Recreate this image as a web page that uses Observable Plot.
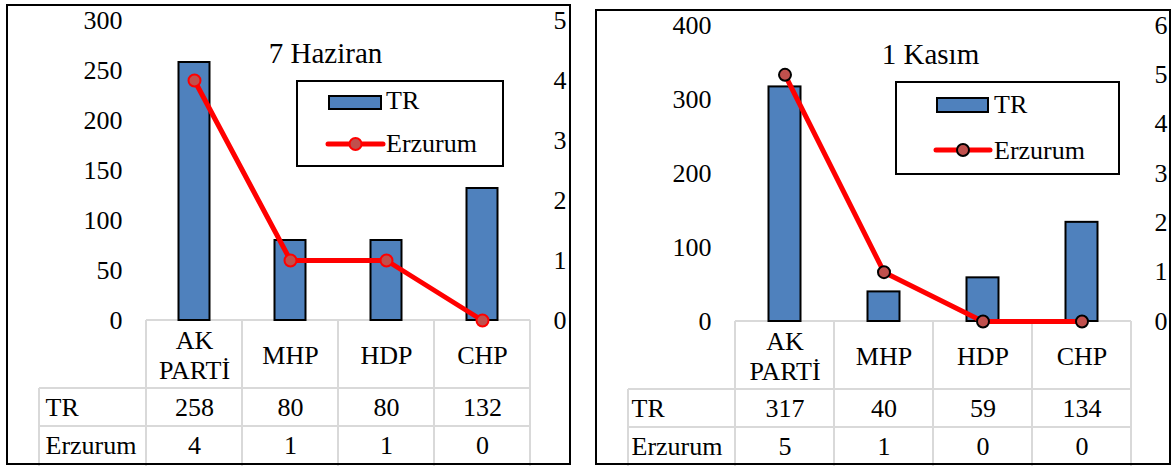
<!DOCTYPE html>
<html><head><meta charset="utf-8">
<script src="https://cdn.jsdelivr.net/npm/d3@7"></script>
<script src="https://cdn.jsdelivr.net/npm/@observablehq/plot@0.6"></script>
<style>
body{margin:0;background:#fff;}
#wrap{position:relative;width:1173px;height:466px;overflow:hidden;font-family:"Liberation Serif","Times New Roman",serif;}
#wrap svg{font-family:"Liberation Serif","Times New Roman",serif !important;font-size:26px;}
.frame{position:absolute;border:2px solid #000;box-sizing:border-box;pointer-events:none;}
</style></head><body>
<div id="wrap"></div>
<script>
// ---- data ----
const parties = ["AK PARTİ", "MHP", "HDP", "CHP"];
const partyLabels = ["AK\nPARTİ", "MHP", "HDP", "CHP"];
const seriesNames = ["TR", "Erzurum"];
const titles = ["7 Haziran", "1 Kasım"];
const trJune = [258, 80, 80, 132];
const erzJune = [4, 1, 1, 0];
const trNov = [317, 40, 59, 134];
const erzNov = [5, 1, 0, 0];
const leftTicksJune = [0, 50, 100, 150, 200, 250, 300];
const rightTicksJune = [0, 1, 2, 3, 4, 5];
const leftTicksNov = [0, 100, 200, 300, 400];
const rightTicksNov = [0, 1, 2, 3, 4, 5, 6];

const FONT = '"Liberation Serif","Times New Roman",serif';
const FS = 26;

function tableGrid(L) {
  return (index, scales, values, dims) => {
    const x = scales.x;
    const inner = dims.width - dims.marginLeft - dims.marginRight;
    let bounds = parties.map((p, i) => (x ? x(p) : dims.marginLeft + i * inner / parties.length));
    const step = bounds[1] - bounds[0];
    bounds.push(bounds[bounds.length - 1] + step);
    const y0 = dims.height - dims.marginBottom;
    const r1 = y0 + L.hdrH, r2 = r1 + L.rowH, bottom = dims.height;
    const last = bounds[bounds.length - 1];
    const g = d3.create("svg:g").attr("stroke", "#d9d9d9").attr("stroke-width", 2).attr("fill", "none");
    const seg = (x1, y1, x2, y2) => g.append("line").attr("x1", x1).attr("y1", y1).attr("x2", x2).attr("y2", y2);
    seg(bounds[0], y0, last, y0);
    seg(L.rowLeft, r1, last, r1);
    seg(L.rowLeft, r2, last, r2);
    bounds.forEach(b => seg(b, y0, b, bottom));
    seg(L.rowLeft, r1, L.rowLeft, bottom);
    return g.node();
  };
}

function legend(L) {
  return () => {
    const lg = L.lg;
    const g = d3.create("svg:g").attr("font-family", FONT).attr("font-size", FS).attr("text-anchor", "start");
    g.append("rect").attr("x", lg.x).attr("y", lg.y).attr("width", lg.w).attr("height", lg.h)
      .attr("fill", "#fff").attr("stroke", "#000").attr("stroke-width", 2);
    g.append("rect").attr("x", lg.sx).attr("y", lg.sy).attr("width", lg.sw).attr("height", lg.sh)
      .attr("fill", "#4F81BD").attr("stroke", "#000").attr("stroke-width", 2);
    g.append("text").attr("x", lg.tx).attr("y", lg.t1).attr("fill", "#000").style("text-anchor", "start").text(seriesNames[0]);
    g.append("line").attr("x1", lg.lx1).attr("x2", lg.lx2).attr("y1", lg.ly).attr("y2", lg.ly)
      .attr("stroke", "#FF0000").attr("stroke-width", 5).attr("stroke-linecap", "round");
    g.append("circle").attr("cx", (lg.lx1 + lg.lx2) / 2).attr("cy", lg.ly).attr("r", 6)
      .attr("fill", "#C0504D").attr("stroke", L.dotStroke).attr("stroke-width", 2);
    g.append("text").attr("x", lg.tx).attr("y", lg.t2).attr("fill", "#000").style("text-anchor", "start").text(seriesNames[1]);
    return g.node();
  };
}

function panel(cfg) {
  const {tr, erz, leftTicks, rightTicks, title, L} = cfg;
  const yMax = leftTicks[leftTicks.length - 1];
  const k = yMax / rightTicks[rightTicks.length - 1];
  const data = parties.map((p, i) => ({party: p, label: partyLabels[i], tr: tr[i], erz: erz[i]}));
  const txt = {fontFamily: FONT, fontSize: FS, fill: "#000"};
  return Plot.plot({
    width: L.width, height: 466,
    marginLeft: L.ml, marginRight: L.mr, marginTop: L.mt, marginBottom: L.mb,
    style: {background: "transparent", color: "#000", overflow: "visible"},
    x: {type: "band", domain: parties, padding: 0, axis: null},
    y: {domain: [0, yMax], axis: null},
    marks: [
      tableGrid(L),
      Plot.barY(data, {x: "party", y: "tr", fill: "#4F81BD", stroke: "#000", strokeWidth: 2, insetLeft: L.inset, insetRight: L.inset}),
      Plot.line(data, {x: "party", y: d => d.erz * k, stroke: "#FF0000", strokeWidth: 5}),
      Plot.dot(data, {x: "party", y: d => d.erz * k, r: 6, fill: "#C0504D", stroke: L.dotStroke, strokeWidth: 2}),
      Plot.axisY({ticks: leftTicks, tickSize: 0, tickPadding: 23, label: null, ...txt}),
      Plot.axisY({anchor: "right", ticks: rightTicks.map(t => t * k), tickFormat: d => String(Math.round(d / k)), tickSize: 0, tickPadding: 23, label: null, ...txt}),
      Plot.text([title], {text: d => d, frameAnchor: "top", dx: L.titleDx, dy: L.titleDy, lineAnchor: "middle", ...txt, fontSize: 29}),
      Plot.text(data, {x: "party", text: "label", frameAnchor: "bottom", dy: L.hdrDy, lineAnchor: "middle", lineHeight: 1.15, ...txt}),
      Plot.text(data, {x: "party", text: d => String(d.tr), frameAnchor: "bottom", dy: L.row1Dy, lineAnchor: "middle", ...txt}),
      Plot.text(data, {x: "party", text: d => String(d.erz), frameAnchor: "bottom", dy: L.row2Dy, lineAnchor: "middle", ...txt}),
      Plot.text([seriesNames[0]], {text: d => d, frameAnchor: "bottom-left", dx: L.rowHdrDx, dy: L.row1Dy, textAnchor: "start", lineAnchor: "middle", ...txt}),
      Plot.text([seriesNames[1]], {text: d => d, frameAnchor: "bottom-left", dx: L.rowHdrDx, dy: L.row2Dy, textAnchor: "start", lineAnchor: "middle", ...txt}),
      legend(L)
    ]
  });
}

const layoutJune = {
  left: 0, width: 580, ml: 145, mr: 50, mt: 20, mb: 146, inset: 32.5,
  titleDx: -12.5, titleDy: 33, hdrDy: 34, row1Dy: 87, row2Dy: 125, rowHdrDx: -100,
  rowLeft: 39, hdrH: 68, rowH: 38, dotStroke: "#FF0000",
  lg: {x: 297, y: 81, w: 206, h: 85, sx: 329, sy: 96, sw: 52, sh: 13, tx: 386, t1: 109, t2: 152, lx1: 328, lx2: 383, ly: 144}
};
const layoutNov = {
  left: 590, width: 583, ml: 144, mr: 42, mt: 25, mb: 145, inset: 33.5,
  titleDx: -2.5, titleDy: 29, hdrDy: 34, row1Dy: 87, row2Dy: 125, rowHdrDx: -103,
  rowLeft: 38, hdrH: 68, rowH: 38, dotStroke: "#000",
  lg: {x: 306, y: 82, w: 223, h: 92, sx: 347, sy: 98, sw: 51, sh: 14, tx: 404, t1: 113, t2: 159, lx1: 346, lx2: 400, ly: 150}
};

const wrap = document.getElementById("wrap");
[
  {tr: trJune, erz: erzJune, leftTicks: leftTicksJune, rightTicks: rightTicksJune, title: titles[0], L: layoutJune},
  {tr: trNov, erz: erzNov, leftTicks: leftTicksNov, rightTicks: rightTicksNov, title: titles[1], L: layoutNov}
].forEach(cfg => {
  const svg = panel(cfg);
  svg.style.position = "absolute";
  svg.style.left = cfg.L.left + "px";
  svg.style.top = "0px";
  svg.style.maxWidth = "none";
  svg.style.fontFamily = FONT;
  svg.style.fontSize = FS + "px";
  wrap.appendChild(svg);
});
const frames = [[6, 4, 565, 461], [595, 9, 576, 456]];
frames.forEach(([l, t, w, h]) => {
  const d = document.createElement("div");
  d.className = "frame";
  Object.assign(d.style, {left: l + "px", top: t + "px", width: w + "px", height: h + "px"});
  wrap.appendChild(d);
});
</script>
</body></html>
